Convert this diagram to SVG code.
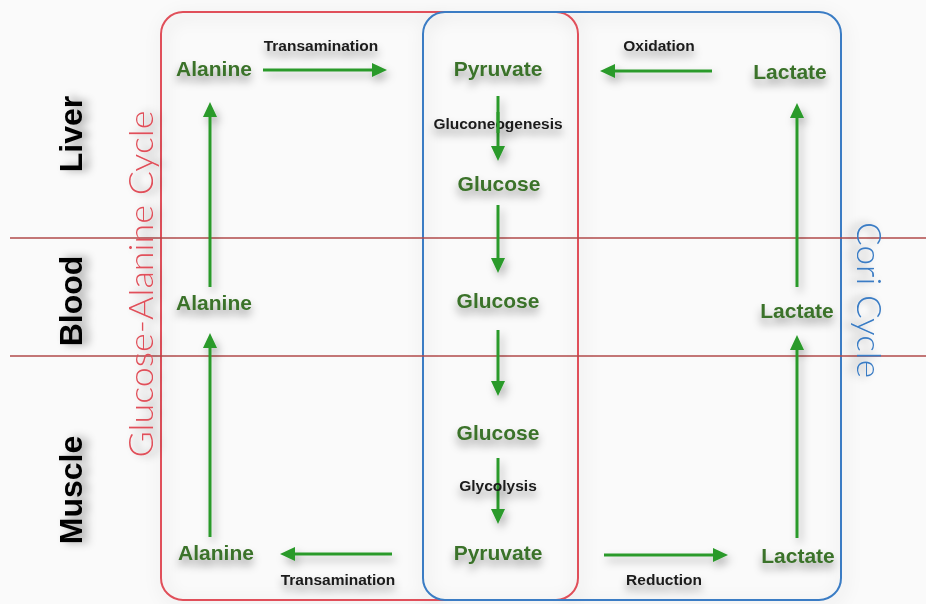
<svg xmlns="http://www.w3.org/2000/svg" width="926" height="604" viewBox="0 0 926 604">
  <defs>
    <style>
      .node { font-family: "Liberation Sans", Arial, sans-serif; font-weight: bold; font-size: 21px; fill: #3a7229; text-anchor: middle; }
      .elabel { font-family: "Liberation Sans", Arial, sans-serif; font-weight: bold; font-size: 15.5px; fill: #1a1a1a; text-anchor: middle; }
      .region { font-family: "Liberation Sans", Arial, sans-serif; font-weight: bold; font-size: 32px; fill: #000; text-anchor: middle; }
      .cycle { font-family: Lato, "Open Sans", "Liberation Sans", sans-serif; font-weight: 300; font-size: 34px; text-anchor: middle; }
      .arrow { stroke: #2a9a2a; stroke-width: 3; fill: none; marker-end: url(#head); }
      .divider { stroke: #b04a4a; stroke-width: 1.5; }
    </style>
    <marker id="head" markerUnits="userSpaceOnUse" markerWidth="15" markerHeight="16" refX="0" refY="8" orient="auto">
      <path d="M0,1 L15,8 L0,15 Z" fill="#2a9a2a"/>
    </marker>
    <!-- soft shadow for text, follows the text's own orientation -->
    <filter id="tsh" x="-30%" y="-80%" width="160%" height="300%">
      <feDropShadow dx="0" dy="6" stdDeviation="4.5" flood-color="#000" flood-opacity="0.4"/>
    </filter>
    <!-- soft shadow for arrows -->
    <filter id="ash" filterUnits="userSpaceOnUse" x="0" y="0" width="926" height="604">
      <feDropShadow dx="3" dy="5" stdDeviation="4" flood-color="#000" flood-opacity="0.3"/>
    </filter>
    <!-- wide haze around the frames -->
    <filter id="bsh" filterUnits="userSpaceOnUse" x="0" y="0" width="926" height="604">
      <feDropShadow dx="2" dy="4" stdDeviation="8" flood-color="#000" flood-opacity="0.2"/>
    </filter>
  </defs>

  <rect width="926" height="604" fill="#fafafa"/>

  <!-- cycle frames -->
  <g id="cycle-frames" filter="url(#bsh)">
    <rect id="glucose-alanine-frame" x="161" y="12" width="417" height="588" rx="22" fill="none" stroke="#e0505a" stroke-width="2"/>
    <rect id="cori-frame" x="423" y="12" width="418" height="588" rx="22" fill="none" stroke="#3a7cc4" stroke-width="2"/>
  </g>

  <!-- organ dividers -->
  <g id="dividers">
    <line class="divider" x1="10" y1="238" x2="926" y2="238"/>
    <line class="divider" x1="10" y1="356" x2="926" y2="356"/>
  </g>

  <!-- region titles -->
  <g id="regions">
    <text class="region" filter="url(#tsh)" transform="translate(82,134) rotate(-90)">Liver</text>
    <text class="region" filter="url(#tsh)" transform="translate(82,301) rotate(-90)">Blood</text>
    <text class="region" filter="url(#tsh)" transform="translate(82,490) rotate(-90)">Muscle</text>
  </g>

  <!-- cycle titles -->
  <g id="cycle-titles">
    <text class="cycle" fill="#e0505a" filter="url(#tsh)" transform="translate(153,284) rotate(-90)" textLength="347" lengthAdjust="spacingAndGlyphs">Glucose-Alanine Cycle</text>
    <text class="cycle" fill="#3a7cc4" filter="url(#tsh)" transform="translate(857,300) rotate(90)" textLength="156" lengthAdjust="spacingAndGlyphs">Cori Cycle</text>
  </g>

  <!-- connectors -->
  <g id="connectors" filter="url(#ash)">
    <line class="arrow" x1="263" y1="70" x2="372" y2="70"/>
    <line class="arrow" x1="712" y1="71" x2="615" y2="71"/>
    <line class="arrow" x1="498" y1="96" x2="498" y2="146"/>
    <line class="arrow" x1="498" y1="205" x2="498" y2="258"/>
    <line class="arrow" x1="498" y1="330" x2="498" y2="381"/>
    <line class="arrow" x1="498" y1="458" x2="498" y2="509"/>
    <line class="arrow" x1="604" y1="555" x2="713" y2="555"/>
    <line class="arrow" x1="392" y1="554" x2="295" y2="554"/>
    <line class="arrow" x1="210" y1="537" x2="210" y2="348"/>
    <line class="arrow" x1="210" y1="287" x2="210" y2="117"/>
    <line class="arrow" x1="797" y1="538" x2="797" y2="350"/>
    <line class="arrow" x1="797" y1="287" x2="797" y2="118"/>
  </g>

  <!-- connector labels -->
  <g id="connector-labels">
    <text class="elabel" filter="url(#tsh)" x="321" y="51">Transamination</text>
    <text class="elabel" filter="url(#tsh)" x="659" y="51">Oxidation</text>
    <text class="elabel" filter="url(#tsh)" x="498" y="129">Gluconeogenesis</text>
    <text class="elabel" filter="url(#tsh)" x="498" y="491">Glycolysis</text>
    <text class="elabel" filter="url(#tsh)" x="664" y="585">Reduction</text>
    <text class="elabel" filter="url(#tsh)" x="338" y="585">Transamination</text>
  </g>
  <!-- gluconeogenesis shaft runs over its label -->
  <line x1="498" y1="112" x2="498" y2="133" stroke="#2a9a2a" stroke-width="3"/>

  <!-- metabolites -->
  <g id="alanine-liver"><text class="node" filter="url(#tsh)" x="214" y="76">Alanine</text></g>
  <g id="pyruvate-liver"><text class="node" filter="url(#tsh)" x="498" y="76">Pyruvate</text></g>
  <g id="lactate-liver"><text class="node" filter="url(#tsh)" x="790" y="79">Lactate</text></g>
  <g id="glucose-liver"><text class="node" filter="url(#tsh)" x="499" y="191">Glucose</text></g>
  <g id="alanine-blood"><text class="node" filter="url(#tsh)" x="214" y="310">Alanine</text></g>
  <g id="glucose-blood"><text class="node" filter="url(#tsh)" x="498" y="308">Glucose</text></g>
  <g id="lactate-blood"><text class="node" filter="url(#tsh)" x="797" y="318">Lactate</text></g>
  <g id="glucose-muscle"><text class="node" filter="url(#tsh)" x="498" y="440">Glucose</text></g>
  <g id="alanine-muscle"><text class="node" filter="url(#tsh)" x="216" y="560">Alanine</text></g>
  <g id="pyruvate-muscle"><text class="node" filter="url(#tsh)" x="498" y="560">Pyruvate</text></g>
  <g id="lactate-muscle"><text class="node" filter="url(#tsh)" x="798" y="563">Lactate</text></g>
</svg>
